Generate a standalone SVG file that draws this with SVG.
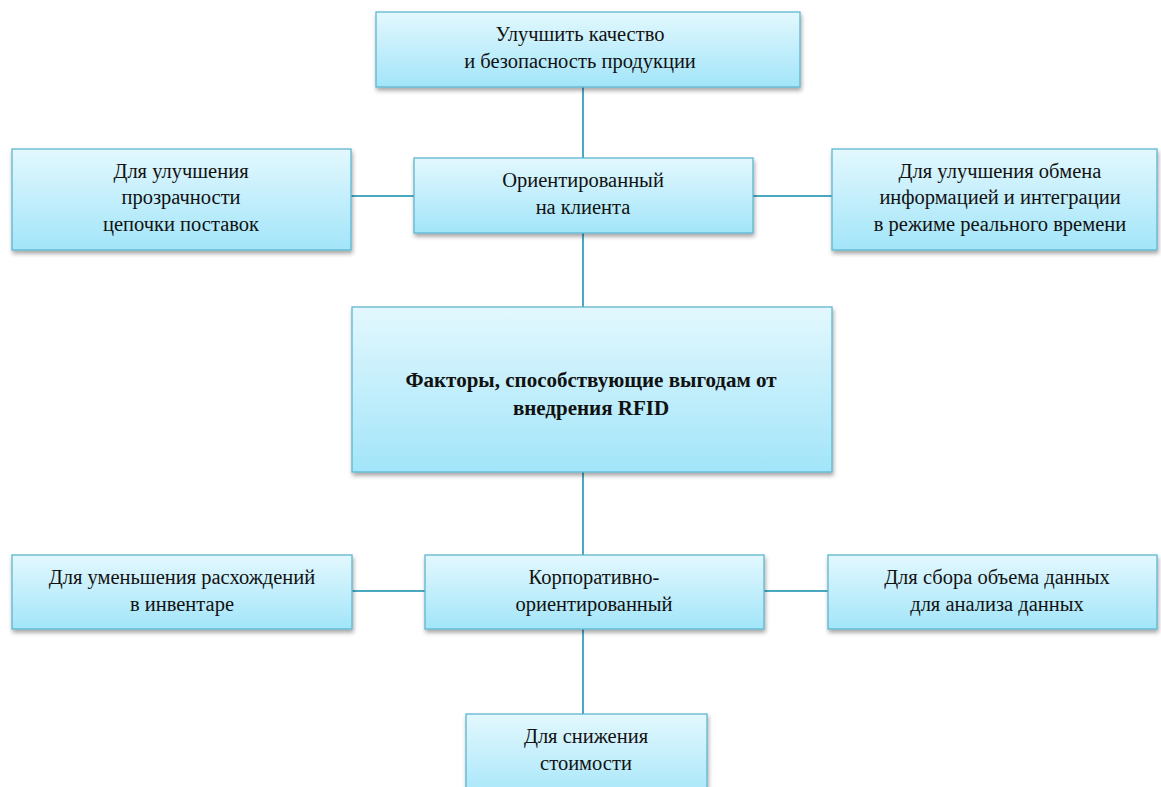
<svg xmlns="http://www.w3.org/2000/svg" width="1161" height="787" viewBox="0 0 1161 787">
<defs>
<linearGradient id="g" x1="0" y1="0" x2="0" y2="1">
<stop offset="0" stop-color="#e3f8fe"/>
<stop offset="1" stop-color="#a2e5f9"/>
</linearGradient>
<filter id="sh" x="-10%" y="-10%" width="120%" height="130%">
<feDropShadow dx="1" dy="3" stdDeviation="2" flood-color="#000" flood-opacity="0.35"/>
</filter>
</defs>
<style>
.box{fill:url(#g);stroke:#5fb6cf;stroke-width:1.3;filter:url(#sh)}
text{font-family:'Liberation Serif','Noto Serif','DejaVu Serif',serif;font-size:20.5px;fill:#111;text-anchor:middle}
.b{font-weight:bold;font-size:21px}
.c{stroke:#4aa8c2;stroke-width:2;fill:none}
</style>
<rect width="1161" height="787" fill="#fff"/>
<g id="connectors">
<line class="c" x1="583" y1="87" x2="583" y2="158"/>
<line class="c" x1="583" y1="233" x2="583" y2="307"/>
<line class="c" x1="583" y1="472" x2="583" y2="555"/>
<line class="c" x1="583" y1="629" x2="583" y2="714"/>
<line class="c" x1="351" y1="196" x2="414" y2="196"/>
<line class="c" x1="753" y1="196" x2="832" y2="196"/>
<line class="c" x1="351" y1="591" x2="425" y2="591"/>
<line class="c" x1="764" y1="591" x2="828" y2="591"/>
</g>
<g id="top">
<rect class="box" x="376" y="12" width="424" height="75"/>
<text x="580" y="41">Улучшить качество</text>
<text x="580" y="68">и безопасность продукции</text>
</g>
<g id="left1">
<rect class="box" x="12" y="149" width="339" height="101"/>
<text x="181" y="178">Для улучшения</text>
<text x="181" y="204">прозрачности</text>
<text x="181" y="231">цепочки поставок</text>
</g>
<g id="client">
<rect class="box" x="414" y="158" width="339" height="75"/>
<text x="583" y="187">Ориентированный</text>
<text x="583" y="214">на клиента</text>
</g>
<g id="right1">
<rect class="box" x="832" y="149" width="325" height="101"/>
<text x="1000" y="178">Для улучшения обмена</text>
<text x="1000" y="204">информацией и интеграции</text>
<text x="1000" y="231">в режиме реального времени</text>
</g>
<g id="main">
<rect class="box" x="352" y="307" width="480" height="165"/>
<text class="b" x="591" y="387">Факторы, способствующие выгодам от</text>
<text class="b" x="591" y="415">внедрения RFID</text>
</g>
<g id="left2">
<rect class="box" x="12" y="555" width="340" height="74"/>
<text x="182" y="584">Для уменьшения расхождений</text>
<text x="182" y="611">в инвентаре</text>
</g>
<g id="corp">
<rect class="box" x="425" y="555" width="339" height="74"/>
<text x="594" y="584">Корпоративно-</text>
<text x="594" y="611">ориентированный</text>
</g>
<g id="right2">
<rect class="box" x="828" y="555" width="329" height="74"/>
<text x="997" y="584">Для сбора объема данных</text>
<text x="997" y="611">для анализа данных</text>
</g>
<g id="bottom">
<rect class="box" x="466" y="714" width="241" height="90"/>
<text x="586" y="743">Для снижения</text>
<text x="586" y="770">стоимости</text>
</g>
</svg>
